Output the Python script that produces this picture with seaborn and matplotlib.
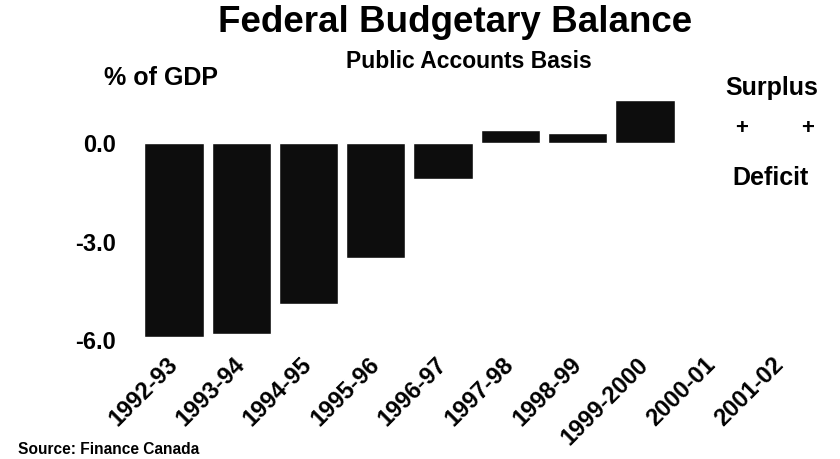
import matplotlib
matplotlib.use("Agg")
import matplotlib.pyplot as plt
import matplotlib.transforms as mtransforms
import numpy as np
import pandas as pd
import seaborn as sns

# Federal budgetary balance, % of GDP (negative = deficit)
fiscal_years = ["1992-93", "1993-94", "1994-95", "1995-96", "1996-97",
                "1997-98", "1998-99", "1999-2000", "2000-01", "2001-02"]
balance_pct_gdp = [-5.9, -5.8, -4.9, -3.5, -1.1, 0.4, 0.3, 1.3, np.nan, np.nan]
y_ticks = [0.0, -3.0, -6.0]
y_tick_labels = ["0.0", "-3.0", "-6.0"]

sns.set_theme(style="white")
plt.rcParams["font.family"] = ["Liberation Sans", "DejaVu Sans"]
plt.rcParams["font.weight"] = "bold"
plt.rcParams["text.color"] = "black"
plt.rcParams["xtick.color"] = "black"
plt.rcParams["ytick.color"] = "black"

W, H = 840, 459
fig = plt.figure(figsize=(W / 100, H / 100), dpi=100)
fig.patch.set_facecolor("white")


def px(x, y):
    return x / W, 1 - y / H


ax = fig.add_axes([0.159, 0.2368, 0.817, 0.5663])
df = pd.DataFrame({"year": fiscal_years, "balance": balance_pct_gdp})
sns.barplot(data=df, x="year", y="balance", order=fiscal_years,
            color="#0d0d0d", saturation=1, width=0.88, errorbar=None, ax=ax)

ax.set_xlim(-0.6, 9.6)
ax.set_ylim(-6.3, 1.6)
ax.set_yticks(y_ticks)
ax.set_yticklabels(y_tick_labels)
ax.tick_params(axis="y", length=0, pad=13, labelsize=17, labelcolor="black")
ax.tick_params(axis="x", length=0, pad=2, labelsize=17, labelcolor="black")
shift = mtransforms.ScaledTranslation(-8 / 100, 0, fig.dpi_scale_trans)
for lbl in ax.get_xticklabels():
    lbl.set_rotation(45)
    lbl.set_ha("right")
    lbl.set_rotation_mode("anchor")
    lbl.set_transform(lbl.get_transform() + shift)
for lbl in ax.get_yticklabels():
    lbl.set_fontweight("bold")
ax.set_xlabel("")
ax.set_ylabel("")
ax.grid(False)
sns.despine(ax=ax, left=True, bottom=True)

fig.text(*px(455, 22), "Federal Budgetary Balance", ha="center", va="center",
         fontsize=26.5, fontweight="bold")
fig.text(*px(469, 62), "Public Accounts Basis", ha="center", va="center",
         fontsize=16.5, fontweight="bold")
fig.text(*px(161, 78), "% of GDP", ha="center", va="center",
         fontsize=18, fontweight="bold")
fig.text(*px(772, 88), "Surplus", ha="center", va="center",
         fontsize=18, fontweight="bold")
fig.text(*px(742, 129), "+", ha="center", va="center", fontsize=16, fontweight="bold")
fig.text(*px(808, 129), "+", ha="center", va="center", fontsize=16, fontweight="bold")
fig.text(*px(771, 178), "Deficit", ha="center", va="center",
         fontsize=18, fontweight="bold")
fig.text(*px(18, 449), "Source: Finance Canada", ha="left", va="center",
         fontsize=11.2, fontweight="bold")

fig.savefig("out.png", dpi=100, facecolor="white")
